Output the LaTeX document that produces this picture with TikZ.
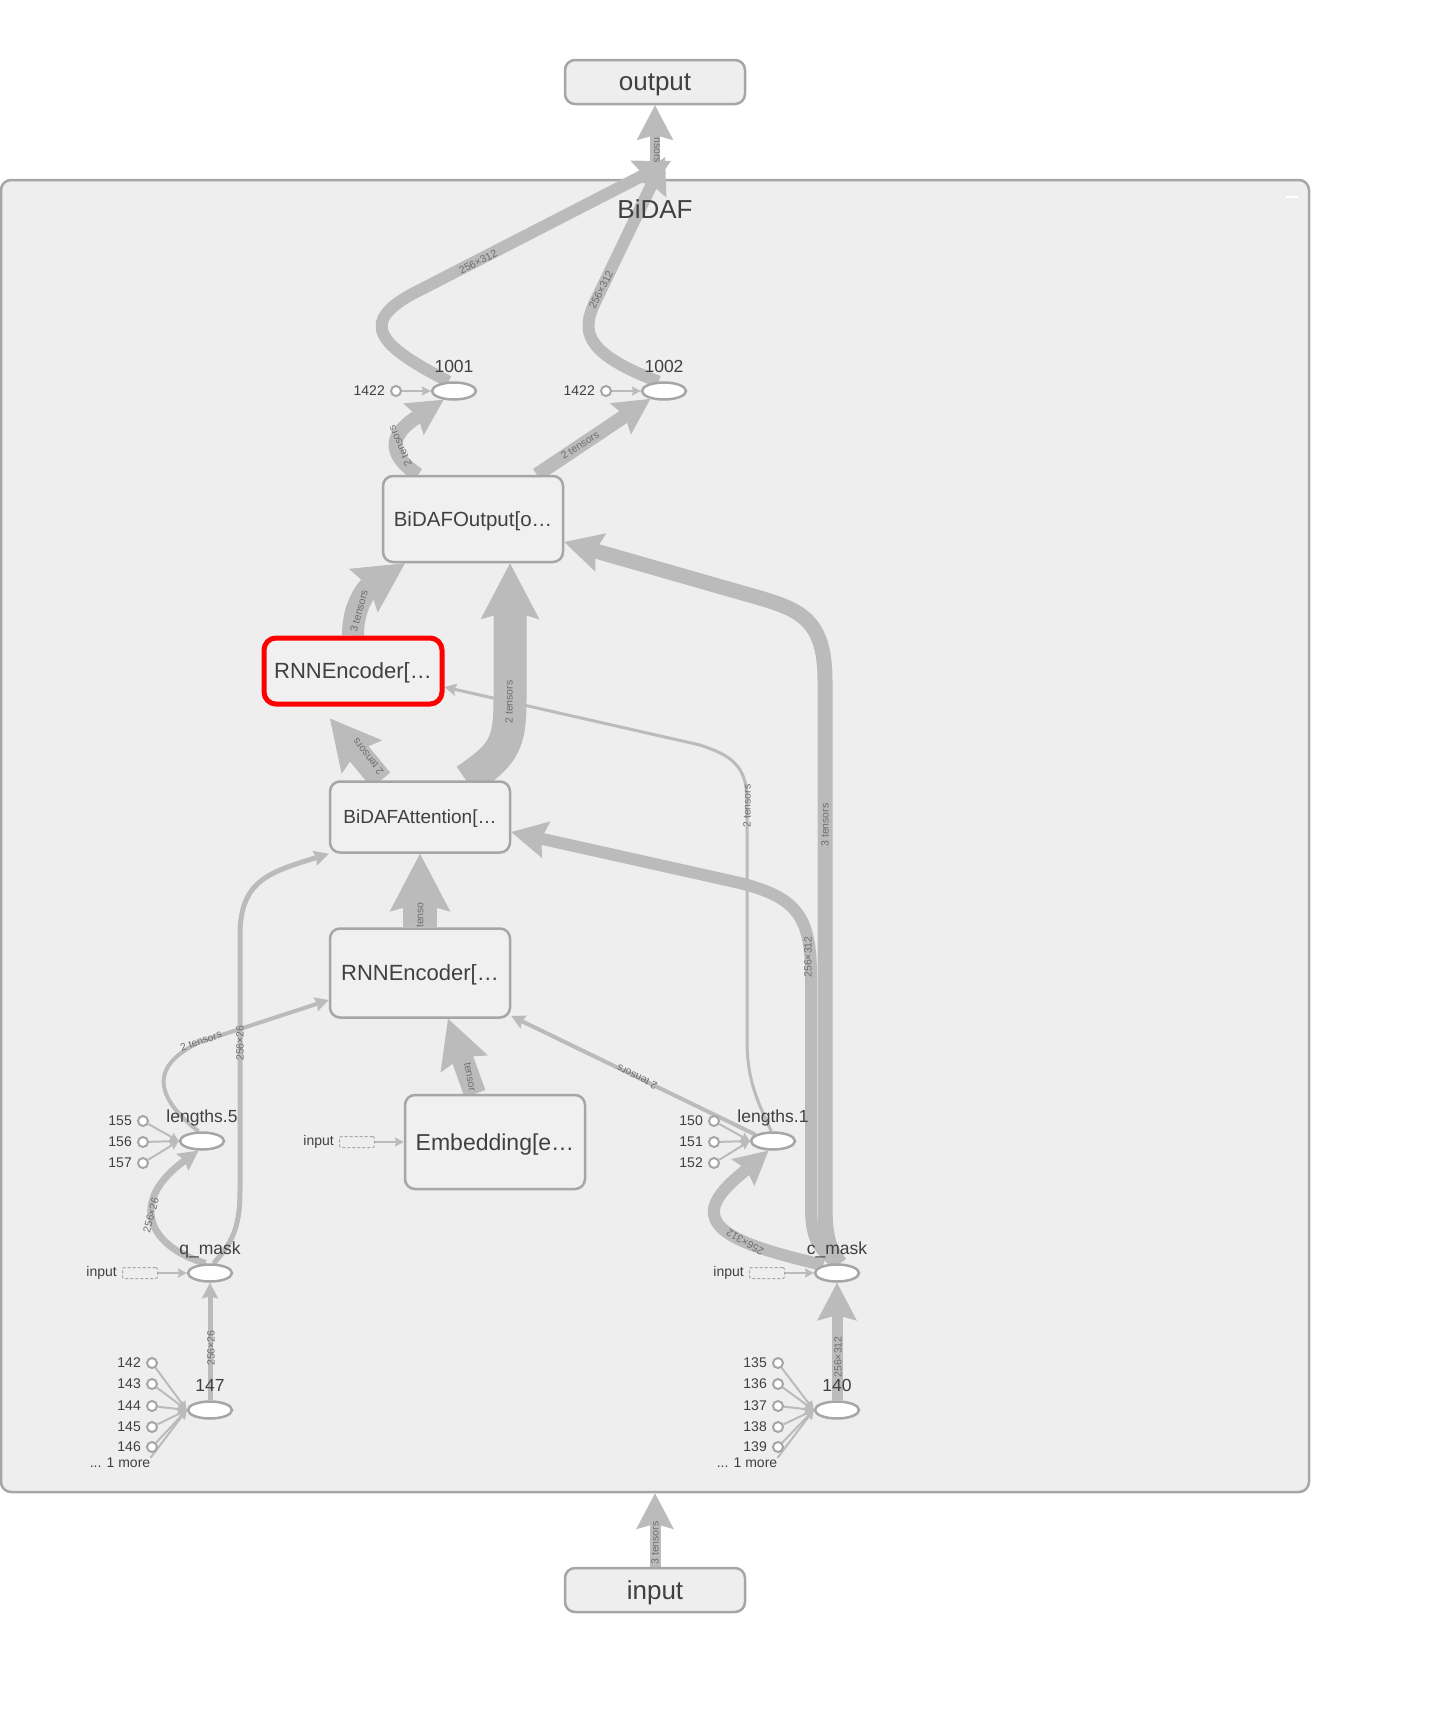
\documentclass[tikz,border=0pt]{standalone}
\usepackage{fontspec}
\setmainfont{Liberation Sans}
\usetikzlibrary{arrows.meta,shapes.geometric,positioning}
\definecolor{edgegray}{HTML}{BBBBBB}
\definecolor{nodegray}{HTML}{A6A6A6}
\definecolor{clusterfill}{HTML}{EEEEEE}
\definecolor{boxfill}{HTML}{F0F0F0}
\definecolor{textgray}{HTML}{404040}
\definecolor{labelgray}{HTML}{6E6E6E}
\pgfdeclarelayer{bg}
\pgfdeclarelayer{edgelayer}
\pgfsetlayers{bg,edgelayer,main}
\begin{document}
\begin{tikzpicture}[
    x=1pt, y=-1pt,
    cluster/.style={rectangle, rounded corners=10pt, draw=nodegray, line width=2.5pt, fill=clusterfill, minimum width=1308pt, minimum height=1312pt},
    clustertitle/.style={text=textgray, font=\fontsize{26}{30}\selectfont, inner sep=0pt},
    opbox/.style={rectangle, rounded corners=10pt, draw=nodegray, line width=2.5pt, fill=boxfill, text=textgray, minimum width=180pt, inner sep=0pt, text depth=0pt},
    iobox/.style={opbox, fill=clusterfill, minimum height=44pt, font=\fontsize{26}{30}\selectfont},
    opnode/.style={ellipse, draw=nodegray, line width=2.5pt, fill=white, minimum width=44pt, minimum height=17pt, inner sep=0pt},
    constnode/.style={circle, draw=nodegray, line width=2pt, fill=white, minimum size=10pt, inner sep=0pt},
    dashin/.style={rectangle, rounded corners=2pt, draw=nodegray, densely dashed, line width=1pt, minimum width=35pt, minimum height=11pt, inner sep=0pt},
    nodetag/.style={text=textgray, font=\fontsize{17.5}{20}\selectfont, inner sep=0pt},
    tag/.style={label={[nodetag, anchor=base, label distance=9pt]90:#1}},
    sidetext/.style={text=textgray, font=\fontsize{14}{16}\selectfont, inner sep=0pt},
    side/.style={label={[sidetext, label distance=5pt]180:#1}},
    elabel/.style={text=labelgray, font=\fontsize{10.5}{12}\selectfont, inner sep=0pt},
    tens/.style 2 args={draw=edgegray, line width=#1, arrows={-Stealth[length=#2, width'=0pt 1.05, inset'=0pt 0.15, line width=0pt]}}
  ]
  \useasboundingbox (0,0) rectangle (1429,1733);

  \begin{pgfonlayer}{bg}
    \node[cluster] (bidaf) at (655,836) {};
  \end{pgfonlayer}
  \node[clustertitle] (bidaftitle) at (655,209) {BiDAF};
  \draw[white, line width=2.5pt] (1286,197) -- (1298,197);

  \node[iobox] (output) at (655,82) {output};
  \node[iobox] (input) at (655,1590) {input};

  \node[opbox, minimum height=86pt, font=\fontsize{20.5}{24}\selectfont] (bidafout) at (473,519) {BiDAFOutput[o…};
  \node[opbox, draw=red, line width=5pt, minimum width=178pt, minimum height=66pt, rounded corners=12pt, font=\fontsize{22}{26}\selectfont] (rnnenc2) at (353,671) {RNNEncoder[…};
  \node[opbox, minimum height=71pt, font=\fontsize{19}{22}\selectfont] (bidafatt) at (420,817) {BiDAFAttention[…};
  \node[opbox, minimum height=89pt, font=\fontsize{22}{26}\selectfont] (rnnenc1) at (420,973) {RNNEncoder[…};
  \node[opbox, minimum height=94pt, font=\fontsize{23}{27}\selectfont] (embed) at (495,1142) {Embedding[e…};

  \node[opnode, tag=1001] (n1001) at (454,391) {};
  \node[opnode, tag=1002] (n1002) at (664,391) {};
  \node[opnode, tag=lengths.5] (len5) at (202,1141) {};
  \node[opnode, tag=q\_mask] (qmask) at (210,1273) {};
  \node[opnode, tag=147] (n147) at (210,1410) {};
  \node[opnode, tag=lengths.1] (len1) at (773,1141) {};
  \node[opnode, tag=c\_mask] (cmask) at (837,1273) {};
  \node[opnode, tag=140] (n140) at (837,1410) {};

  \node[constnode, side=1422] (c1001) at (396,391) {};
  \node[constnode, side=1422] (c1002) at (606,391) {};
  \node[constnode, side=155] (c155) at (143,1121) {};
  \node[constnode, side=156] (c156) at (143,1142) {};
  \node[constnode, side=157] (c157) at (143,1163) {};
  \node[constnode, side=150] (c150) at (714,1121) {};
  \node[constnode, side=151] (c151) at (714,1142) {};
  \node[constnode, side=152] (c152) at (714,1163) {};
  \node[constnode, side=142] (c142) at (152,1363) {};
  \node[constnode, side=143] (c143) at (152,1384) {};
  \node[constnode, side=144] (c144) at (152,1406) {};
  \node[constnode, side=145] (c145) at (152,1427) {};
  \node[constnode, side=146] (c146) at (152,1447) {};
  \node[constnode, side=135] (c135) at (778,1363) {};
  \node[constnode, side=136] (c136) at (778,1384) {};
  \node[constnode, side=137] (c137) at (778,1406) {};
  \node[constnode, side=138] (c138) at (778,1427) {};
  \node[constnode, side=139] (c139) at (778,1447) {};
  \node[sidetext] (more147) at (120,1463) {... 1 more};
  \node[sidetext] (more140) at (747,1463) {... 1 more};

  \node[dashin, side=input] (qin) at (140,1273) {};
  \node[dashin, side=input] (cin) at (767,1273) {};
  \node[dashin, side=input] (ein) at (357,1142) {};

  \coordinate (toout1) at (671,161);
  \coordinate (toout2) at (665,157);

  \begin{pgfonlayer}{edgelayer}
  \draw[tens={11pt}{36pt}] (input.north) -- (bidaf.south);
  \draw[tens={10pt}{35pt}] (bidaf.north) -- (output.south);
  \draw[tens={12pt}{36pt}] (n1001.120) .. controls (378,345) and (355,322) .. (420,290) -- (toout1);
  \draw[tens={12pt}{36pt}] (n1002.120) .. controls (575,350) and (583,326) .. (598,296) -- (toout2);
  \draw[tens={14pt}{36pt}] ([xshift=-55pt]bidafout.north) .. controls (378,448) and (400,428) .. (n1001.-140);
  \draw[tens={14pt}{36pt}] ([xshift=64pt]bidafout.north) -- (n1002.-150);
  \draw[tens={22pt}{50pt}] (rnnenc2.north) .. controls (353,600) and (372,585) .. ([xshift=-68pt]bidafout.south);
  \draw[tens={33pt}{56pt}] ([xshift=46pt]bidafatt.north) .. controls (503,755) and (510,745) .. (510,700) -- ([xshift=37pt]bidafout.south);
  \draw[tens={24pt}{50pt}] ([xshift=-39pt]bidafatt.north) -- ([xshift=-23pt,yshift=-12pt]rnnenc2.south);
  \draw[tens={34pt}{58pt}] (rnnenc1.north) -- (bidafatt.south);
  \draw[tens={22pt}{48pt}] ([xshift=-20pt]embed.north) -- ([xshift=28pt]rnnenc1.south);
  \draw[tens={15pt}{38pt}] ([xshift=3pt]cmask.north) .. controls (826,1245) and (825,1230) .. (825,1200) -- (825,680) .. controls (825,620) and (800,610) .. (760,598) -- ([yshift=-23pt]bidafout.east);
  \draw[tens={12pt}{36pt}] (cmask.north) .. controls (812,1245) and (811,1230) .. (811,1200) -- (811,975) .. controls (811,915) and (795,897) .. (740,883) -- ([yshift=-15pt]bidafatt.east);
  \draw[tens={12pt}{34pt}] (cmask.150) .. controls (760,1250) and (705,1235) .. (715,1205) .. controls (720,1190) and (740,1175) .. (len1.-115);
  \draw[tens={11pt}{38pt}] (n140.north) -- (cmask.south);
  \draw[tens={5pt}{16pt}] (n147.north) -- (qmask.south);
  \draw[tens={7pt}{20pt}] (qmask.115) .. controls (145,1245) and (130,1200) .. (len5.-110);
  \draw[tens={5pt}{15pt}] (qmask.70) .. controls (236,1240) and (240,1220) .. (240,1190) -- (240,935) .. controls (240,880) and (270,872) .. (bidafatt.south west);
  \draw[tens={4pt}{14pt}] (len5.110) .. controls (165,1105) and (140,1070) .. (200,1042) -- ([yshift=-27pt]rnnenc1.west);
  \draw[tens={4pt}{14pt}] (len1.160) -- ([yshift=-43pt]rnnenc1.east);
  \draw[tens={3pt}{12pt}] (len1.100) .. controls (757,1100) and (747,1080) .. (747,1040) -- (747,800) .. controls (747,765) and (730,755) .. (700,745) -- ([yshift=-16pt]rnnenc2.east);

  \draw[tens={2pt}{9pt}] (c1001) -- (n1001.west);
  \draw[tens={2pt}{9pt}] (c1002) -- (n1002.west);
  \draw[tens={2pt}{9pt}] (c155) -- (len5.west);
  \draw[tens={2pt}{9pt}] (c156) -- (len5.west);
  \draw[tens={2pt}{9pt}] (c157) -- (len5.west);
  \draw[tens={2pt}{9pt}] (c150) -- (len1.west);
  \draw[tens={2pt}{9pt}] (c151) -- (len1.west);
  \draw[tens={2pt}{9pt}] (c152) -- (len1.west);
  \draw[tens={2pt}{9pt}] (c142) -- (n147.west);
  \draw[tens={2pt}{9pt}] (c143) -- (n147.west);
  \draw[tens={2pt}{9pt}] (c144) -- (n147.west);
  \draw[tens={2pt}{9pt}] (c145) -- (n147.west);
  \draw[tens={2pt}{9pt}] (c146) -- (n147.west);
  \draw[tens={2pt}{9pt}] (more147.north east) -- (n147.west);
  \draw[tens={2pt}{9pt}] (c135) -- (n140.west);
  \draw[tens={2pt}{9pt}] (c136) -- (n140.west);
  \draw[tens={2pt}{9pt}] (c137) -- (n140.west);
  \draw[tens={2pt}{9pt}] (c138) -- (n140.west);
  \draw[tens={2pt}{9pt}] (c139) -- (n140.west);
  \draw[tens={2pt}{9pt}] (more140.north east) -- (n140.west);
  \draw[tens={2pt}{9pt}] (qin) -- (qmask.west);
  \draw[tens={2pt}{9pt}] (cin) -- (cmask.west);
  \draw[tens={2pt}{9pt}] (ein) -- (embed.west);
  \end{pgfonlayer}

  \node[elabel, rotate=90] (lab1) at (655,1543) {3 tensors};
  \node[elabel, rotate=-90] (lab2) at (657,150) {nsors};
  \node[elabel, rotate=27] (lab3) at (478,262) {256×312};
  \node[elabel, rotate=63] (lab4) at (601,290) {256×312};
  \node[elabel, rotate=114] (lab5) at (400,446) {2 tensors};
  \node[elabel, rotate=33] (lab6) at (580,445) {2 tensors};
  \node[elabel, rotate=75] (lab7) at (359,611) {3 tensors};
  \node[elabel, rotate=90] (lab8) at (509,702) {2 tensors};
  \node[elabel, rotate=128] (lab9) at (368,757) {2 tensors};
  \node[elabel, rotate=90] (lab10) at (420,915) {tenso};
  \node[elabel, rotate=-80] (lab11) at (470,1077) {tensor};
  \node[elabel, rotate=90] (lab12) at (825,825) {3 tensors};
  \node[elabel, rotate=90] (lab13) at (808,957) {256×312};
  \node[elabel, rotate=150] (lab14) at (745,1242) {256×312};
  \node[elabel, rotate=90] (lab15) at (838,1357) {256×312};
  \node[elabel, rotate=90] (lab16) at (211,1348) {256×26};
  \node[elabel, rotate=75] (lab17) at (151,1215) {256×26};
  \node[elabel, rotate=90] (lab18) at (240,1043) {256×26};
  \node[elabel, rotate=20] (lab19) at (201,1041) {2 tensors};
  \node[elabel, rotate=154] (lab20) at (637,1077) {2 tensors};
  \node[elabel, rotate=90] (lab21) at (747,806) {2 tensors};
\end{tikzpicture}
\end{document}
